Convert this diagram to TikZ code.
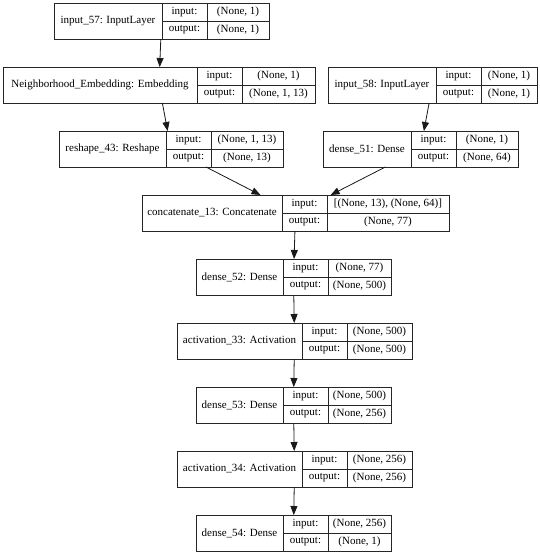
\documentclass[tikz,border=0pt]{standalone}
\usepackage{fontspec}
\setmainfont{Liberation Serif}
\usepackage{tikz}
\usetikzlibrary{arrows.meta, positioning, fit}

% one Keras layer as a record: name | input:/output: | shapes
\newcommand{\layer}[8]{%
    \node[name cell, minimum width=#4] (#1) at (#2,#3) {#6};
    \node[io cell, minimum width=45pt] (#1-in) at (#1.north east) {input:};
    \node[io cell, minimum width=45pt] (#1-out) at (#1-in.south west) {output:};
    \node[io cell, minimum width=#5] (#1-ins) at (#1-in.north east) {#7};
    \node[io cell, minimum width=#5] (#1-outs) at (#1-out.north east) {#8};
    \node[fit=(#1)(#1-outs), inner sep=0pt, outer sep=0pt] (#1-box) {};
}

\begin{document}
\begin{tikzpicture}[
        x=1pt, y=-1pt,
        font=\fontsize{11}{13}\selectfont,
        name cell/.style={draw=black!85, line width=0.8pt, anchor=north west, minimum height=36pt, inner sep=0pt, outer sep=0pt, align=center},
        io cell/.style={draw=black!85, line width=0.8pt, anchor=north west, minimum height=18pt, inner sep=0pt, outer sep=0pt, align=center},
        edge/.style={-{Triangle[length=9pt, width=7pt]}, line width=0.8pt, black!90}
    ]
    \useasboundingbox (0,0) rectangle (540,555);

    % Inputs
    \layer{in57}{54}{3}{108pt}{62pt}{input\_57: InputLayer}{(None, 1)}{(None, 1)}
    \layer{emb}{3}{67}{194pt}{73pt}{Neighborhood\_Embedding: Embedding}{(None, 1)}{(None, 1, 13)}
    \layer{in58}{328}{67}{108pt}{56pt}{input\_58: InputLayer}{(None, 1)}{(None, 1)}

    % Branches
    \layer{resh}{59}{131}{107pt}{72pt}{reshape\_43: Reshape}{(None, 1, 13)}{(None, 13)}
    \layer{d51}{323}{131}{88pt}{62pt}{dense\_51: Dense}{(None, 1)}{(None, 64)}

    % Merge and dense stack
    \layer{cat}{142}{195}{140pt}{122pt}{concatenate\_13: Concatenate}{[(None, 13), (None, 64)]}{(None, 77)}
    \layer{d52}{196}{259}{87pt}{63pt}{dense\_52: Dense}{(None, 77)}{(None, 500)}
    \layer{act33}{177}{323}{125pt}{65pt}{activation\_33: Activation}{(None, 500)}{(None, 500)}
    \layer{d53}{196}{387}{87pt}{63pt}{dense\_53: Dense}{(None, 500)}{(None, 256)}
    \layer{act34}{177}{451}{125pt}{65pt}{activation\_34: Activation}{(None, 256)}{(None, 256)}
    \layer{d54}{196}{515}{87pt}{63pt}{dense\_54: Dense}{(None, 256)}{(None, 1)}

    % Connections
    \draw[edge] (in57-box) -- (emb-box);
    \draw[edge] (emb-box) -- (resh-box);
    \draw[edge] (in58-box) -- (d51-box);
    \draw[edge] (resh-box) -- (cat-box);
    \draw[edge] (d51-box) -- (cat-box);
    \draw[edge] (cat-box) -- (d52-box);
    \draw[edge] (d52-box) -- (act33-box);
    \draw[edge] (act33-box) -- (d53-box);
    \draw[edge] (d53-box) -- (act34-box);
    \draw[edge] (act34-box) -- (d54-box);

\end{tikzpicture}
\end{document}
